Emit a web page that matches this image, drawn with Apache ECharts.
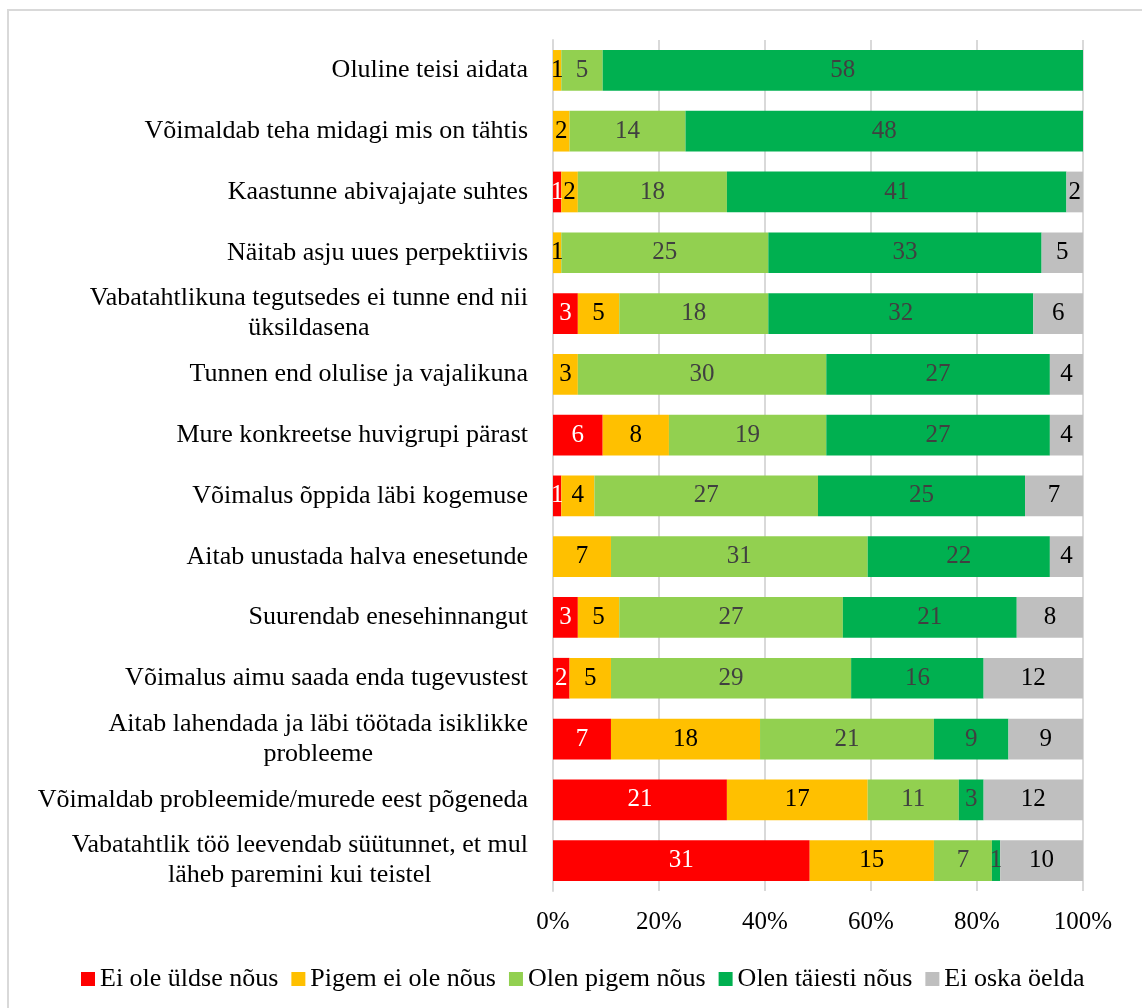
<!DOCTYPE html>
<html lang="et">
<head>
    <meta charset="UTF-8">
    <title>Motiivid</title>
    <style>
        html, body { margin: 0; padding: 0; background: #fff; }
        #chart { width: 1142px; height: 1008px; }
    </style>
    <script src="https://cdn.jsdelivr.net/npm/echarts@6/dist/echarts.min.js"></script>
</head>
<body>
    <div id="chart"></div>
    <script>
        // kategooriad ülevalt alla
        var categories = [
            'Oluline teisi aidata',
            'Võimaldab teha midagi mis on tähtis',
            'Kaastunne abivajajate suhtes',
            'Näitab asju uues perpektiivis',
            'Vabatahtlikuna tegutsedes ei tunne end nii\nüksildasena',
            'Tunnen end olulise ja vajalikuna',
            'Mure konkreetse huvigrupi pärast',
            'Võimalus õppida läbi kogemuse',
            'Aitab unustada halva enesetunde',
            'Suurendab enesehinnangut',
            'Võimalus aimu saada enda tugevustest',
            'Aitab lahendada ja läbi töötada isiklikke\nprobleeme',
            'Võimaldab probleemide/murede eest põgeneda',
            'Vabatahtlik töö leevendab süütunnet, et mul\nläheb paremini kui teistel'
        ];
        var seriesNames = ['Ei ole üldse nõus', 'Pigem ei ole nõus', 'Olen pigem nõus', 'Olen täiesti nõus', 'Ei oska öelda'];
        var eiOle    = [0, 0, 1, 0, 3, 0, 6, 1, 0, 3, 2, 7, 21, 31];
        var pigemEi  = [1, 2, 2, 1, 5, 3, 8, 4, 7, 5, 5, 18, 17, 15];
        var pigemJah = [5, 14, 18, 25, 18, 30, 19, 27, 31, 27, 29, 21, 11, 7];
        var taiesti  = [58, 48, 41, 33, 32, 27, 27, 25, 22, 21, 16, 9, 3, 1];
        var eiOska   = [0, 0, 2, 5, 6, 4, 4, 7, 4, 8, 12, 9, 12, 10];
        var xTicks = [0, 20, 40, 60, 80, 100];

        var counts = [eiOle, pigemEi, pigemJah, taiesti, eiOska];
        var colors = ['#FF0000', '#FFC000', '#92D050', '#00B050', '#BFBFBF'];
        var labelColors = ['#ffffff', '#000000', '#404040', '#404040', '#000000'];
        var font = "'Liberation Serif', 'Times New Roman', serif";

        var totals = categories.map(function (c, i) {
            var s = 0;
            counts.forEach(function (arr) { s += arr[i]; });
            return s;
        });

        var series = counts.map(function (arr, k) {
            return {
                name: seriesNames[k],
                type: 'bar',
                stack: 'all',
                barCategoryGap: '33%',
                itemStyle: { color: colors[k] },
                label: {
                    show: true,
                    position: 'inside',
                    color: labelColors[k],
                    fontFamily: font,
                    fontSize: 25,
                    formatter: function (p) {
                        var n = arr[p.dataIndex];
                        return n ? String(n) : '';
                    }
                },
                emphasis: { disabled: true },
                data: arr.map(function (v, i) { return v / totals[i] * 100; })
            };
        });

        var chart = echarts.init(document.getElementById('chart'));
        chart.setOption({
            animation: false,
            textStyle: { fontFamily: font },
            graphic: [{
                type: 'rect',
                shape: { x: 8, y: 10, width: 1200, height: 1100 },
                style: { fill: 'none', stroke: '#d9d9d9', lineWidth: 2 },
                silent: true
            }],
            grid: { left: 553, right: 59, top: 40, bottom: 117, containLabel: false },
            legend: {
                left: 76,
                top: 961,
                itemWidth: 14,
                itemHeight: 14,
                itemGap: 13,
                icon: 'rect',
                textStyle: { fontFamily: font, fontSize: 26, color: '#000' },
                data: seriesNames
            },
            xAxis: {
                type: 'value',
                min: xTicks[0],
                max: xTicks[xTicks.length - 1],
                interval: 20,
                axisLine: { show: false },
                axisTick: { show: false },
                splitLine: { lineStyle: { color: '#d9d9d9', width: 2 } },
                axisLabel: {
                    margin: 19,
                    fontSize: 25,
                    fontFamily: font,
                    color: '#000',
                    formatter: '{value}%'
                }
            },
            yAxis: {
                type: 'category',
                inverse: true,
                data: categories,
                axisLine: { show: true, lineStyle: { color: '#d9d9d9', width: 2 } },
                axisTick: { show: false },
                axisLabel: {
                    margin: 25,
                    align: 'right',
                    formatter: function (v) {
                        return v.split('\n').map(function (l) { return '{c|' + l + '}'; }).join('\n');
                    },
                    rich: {
                        c: { align: 'center', fontSize: 26, fontFamily: font, color: '#000', lineHeight: 30 }
                    }
                }
            },
            series: series
        });
    </script>
</body>
</html>
